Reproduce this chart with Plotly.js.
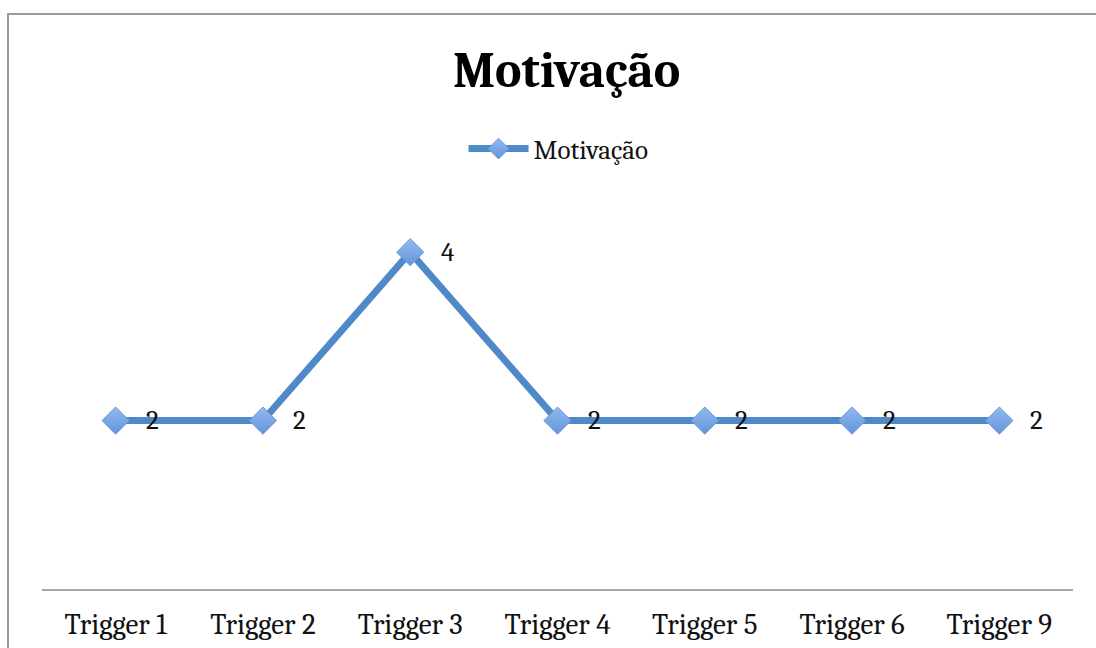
<!DOCTYPE html>
<html>
<head>
<meta charset="utf-8">
<script src="https://cdn.plot.ly/plotly-3.0.1.min.js"></script>
<style>
html,body{margin:0;padding:0;background:#fff;overflow:hidden;}
#frame{position:absolute;left:7px;top:13px;width:1300px;height:800px;border-top:2px solid #9a9a9a;border-left:2px solid #9a9a9a;}
#chart{position:absolute;left:0;top:0;width:1096px;height:648px;}
</style>
</head>
<body>
<div id="frame"></div>
<div id="chart"></div>
<script>
var categories = ["Trigger 1","Trigger 2","Trigger 3","Trigger 4","Trigger 5","Trigger 6","Trigger 9"];
var motivacao = [2,2,4,2,2,2,2];
var seriesName = "Motivação";
var chartTitle = "Motivação";

var serif = "Cambria, 'DejaVu Serif', 'Liberation Serif', serif";

var trace = {
  x: categories,
  y: motivacao,
  type: "scatter",
  mode: "lines+markers",
  name: seriesName,
  line: {color: "#4f89c8", width: 7},
  marker: {symbol: "diamond", size: 21, color: "#93b9ef",
           gradient: {type: "vertical", color: "#6295da"},
           line: {color: "#6a9bdc", width: 1}},
  cliponaxis: false,
  hoverinfo: "x+y"
};

var annotations = categories.map(function(c, i){
  return {x: c, y: motivacao[i], xref: "x", yref: "y", text: String(motivacao[i]),
          showarrow: false, xshift: 37, yshift: 0,
          font: {family: serif, size: 27, color: "#111"}};
});

var layout = {
  width: 1096, height: 648,
  paper_bgcolor: "rgba(0,0,0,0)", plot_bgcolor: "rgba(0,0,0,0)",
  margin: {l: 42, r: 23, t: 168, b: 59},
  title: {text: "<b>" + chartTitle + "</b>", font: {family: serif, size: 50, color: "#000"},
          x: 0.517, xanchor: "center", y: 0.893, yref: "container", yanchor: "middle"},
  showlegend: true,
  legend: {orientation: "h", x: 0.501, xanchor: "center", y: 1.045, yanchor: "middle",
           font: {family: serif, size: 27, color: "#111"}, itemwidth: 60, bgcolor: "rgba(0,0,0,0)"},
  xaxis: {type: "category", range: [-0.5, 6.5], showgrid: false, zeroline: false,
          showline: true, linecolor: "#a6a6a6", linewidth: 2, ticks: "",
          tickfont: {family: serif, size: 29, color: "#111"}, ticklabelstandoff: 8},
  yaxis: {range: [0, 5], visible: false, showgrid: false, zeroline: false},
  annotations: annotations
};

Plotly.newPlot("chart", [trace], layout, {displayModeBar: false, staticPlot: true});
</script>
</body>
</html>
